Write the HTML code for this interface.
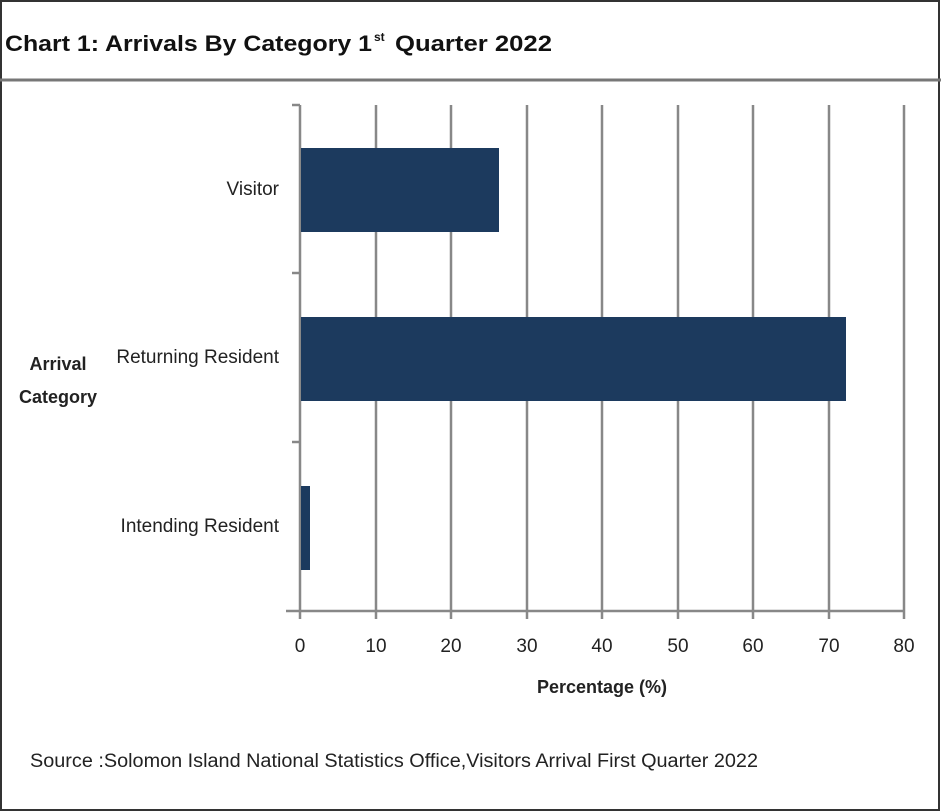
<!DOCTYPE html>
<html><head><meta charset="utf-8"><style>
html,body{margin:0;padding:0;background:#fff;}
svg{display:block;font-family:"Liberation Sans",sans-serif;}
</style></head><body>
<svg width="941" height="812" viewBox="0 0 941 812" xmlns="http://www.w3.org/2000/svg">
<rect x="1" y="1" width="938" height="809" fill="#fff" stroke="#333" stroke-width="2"/>
<line x1="0" y1="80" x2="941" y2="80" stroke="#777" stroke-width="3"/>
<text x="5" y="51" font-size="22" font-weight="bold" fill="#111" textLength="367" lengthAdjust="spacingAndGlyphs">Chart 1: Arrivals By Category 1</text>
<text x="374" y="41" font-size="12" font-weight="bold" fill="#111">st</text>
<text x="395" y="51" font-size="22" font-weight="bold" fill="#111" textLength="157" lengthAdjust="spacingAndGlyphs">Quarter 2022</text>
<g stroke="#888" stroke-width="2.5">
<line x1="376" y1="105" x2="376" y2="619"/>
<line x1="451" y1="105" x2="451" y2="619"/>
<line x1="527" y1="105" x2="527" y2="619"/>
<line x1="602" y1="105" x2="602" y2="619"/>
<line x1="678" y1="105" x2="678" y2="619"/>
<line x1="753" y1="105" x2="753" y2="619"/>
<line x1="829" y1="105" x2="829" y2="619"/>
<line x1="904" y1="105" x2="904" y2="619"/>
<line x1="300" y1="105" x2="300" y2="619"/>
<line x1="286" y1="611" x2="904" y2="611"/>
<line x1="292" y1="105" x2="300" y2="105"/>
<line x1="292" y1="273" x2="300" y2="273"/>
<line x1="292" y1="442" x2="300" y2="442"/>
</g>
<g fill="#1c3a5e">
<rect x="301" y="148" width="198" height="84"/>
<rect x="301" y="317" width="545" height="84"/>
<rect x="301" y="486" width="9" height="84"/>
</g>
<g font-size="19" fill="#222" text-anchor="end">
<text x="279" y="195">Visitor</text>
<text x="279" y="363">Returning Resident</text>
<text x="279" y="532">Intending Resident</text>
</g>
<g font-size="18" font-weight="bold" fill="#222" text-anchor="middle">
<text x="58" y="370">Arrival</text>
<text x="58" y="403">Category</text>
<text x="602" y="693">Percentage (%)</text>
</g>
<g font-size="19" fill="#222" text-anchor="middle">
<text x="300" y="652">0</text><text x="376" y="652">10</text><text x="451" y="652">20</text>
<text x="527" y="652">30</text><text x="602" y="652">40</text><text x="678" y="652">50</text>
<text x="753" y="652">60</text><text x="829" y="652">70</text><text x="904" y="652">80</text>
</g>
<text x="30" y="767" font-size="19" fill="#222" textLength="728" lengthAdjust="spacingAndGlyphs">Source :Solomon Island National Statistics Office,Visitors Arrival First Quarter 2022</text>
</svg>
</body></html>
